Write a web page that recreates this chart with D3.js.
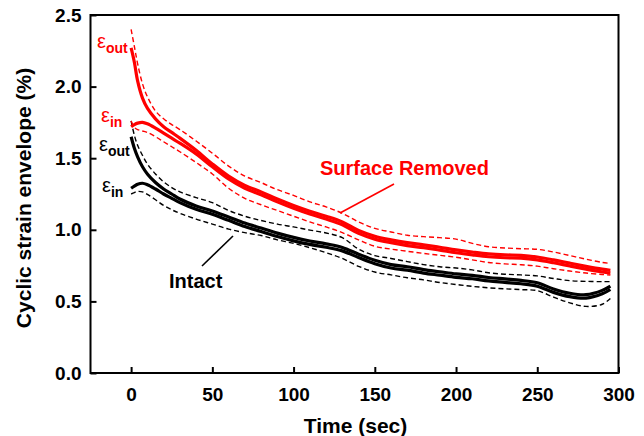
<!DOCTYPE html>
<html>
<head>
<meta charset="utf-8">
<script src="https://cdn.jsdelivr.net/npm/d3@7"></script>
<style>
  html, body { margin: 0; padding: 0; background: #fff; }
  svg text { font-family: "Liberation Sans", Arial, Helvetica, sans-serif; }
</style>
</head>
<body>
<svg id="chart" width="644" height="436"></svg>
<script>
// Sample times (sec)
const time = [0, 2, 4, 7, 10, 15, 20, 25, 30, 40, 50, 60, 70, 80, 90, 100, 110, 120, 130, 140,
              150, 160, 170, 180, 190, 200, 210, 220, 230, 240, 250, 260, 270, 280, 290, 295];

// Surface removed specimen (%)
const removedOut = [2.27, 2.17, 2.04, 1.92, 1.85, 1.775, 1.72, 1.68, 1.64, 1.555, 1.46, 1.375, 1.31, 1.265, 1.215, 1.17, 1.13, 1.095, 1.055, 0.995,
                    0.955, 0.93, 0.91, 0.895, 0.878, 0.86, 0.845, 0.832, 0.825, 0.822, 0.81, 0.79, 0.767, 0.745, 0.725, 0.717];
const removedIn  = [1.72, 1.735, 1.745, 1.75, 1.74, 1.71, 1.675, 1.64, 1.605, 1.53, 1.44, 1.355, 1.29, 1.245, 1.195, 1.15, 1.11, 1.075, 1.035, 0.975,
                    0.935, 0.91, 0.89, 0.875, 0.858, 0.84, 0.825, 0.812, 0.805, 0.802, 0.79, 0.77, 0.747, 0.725, 0.705, 0.697];
const removedUpper = [2.40, 2.28, 2.16, 2.02, 1.93, 1.83, 1.775, 1.735, 1.70, 1.62, 1.535, 1.445, 1.375, 1.33, 1.28, 1.24, 1.195, 1.16, 1.115, 1.055,
                      1.01, 0.985, 0.962, 0.952, 0.945, 0.935, 0.905, 0.882, 0.873, 0.868, 0.864, 0.845, 0.82, 0.795, 0.772, 0.765];
const removedLower = [1.76, 1.715, 1.70, 1.69, 1.68, 1.65, 1.615, 1.58, 1.545, 1.47, 1.39, 1.29, 1.22, 1.175, 1.135, 1.095, 1.055, 1.02, 0.98, 0.93,
                      0.885, 0.865, 0.85, 0.835, 0.822, 0.808, 0.79, 0.772, 0.762, 0.756, 0.746, 0.728, 0.712, 0.698, 0.688, 0.684];

// Intact specimen (%)
const intactOut = [1.65, 1.57, 1.51, 1.44, 1.39, 1.33, 1.285, 1.25, 1.215, 1.167, 1.132, 1.09, 1.047, 1.012, 0.977, 0.947, 0.922, 0.902, 0.877, 0.83,
                   0.787, 0.757, 0.742, 0.722, 0.707, 0.692, 0.682, 0.667, 0.657, 0.647, 0.63, 0.587, 0.557, 0.547, 0.577, 0.607];
const intactIn  = [1.29, 1.305, 1.318, 1.325, 1.315, 1.285, 1.25, 1.22, 1.19, 1.143, 1.108, 1.066, 1.023, 0.988, 0.953, 0.923, 0.898, 0.878, 0.853, 0.806,
                   0.763, 0.733, 0.718, 0.698, 0.683, 0.668, 0.658, 0.643, 0.633, 0.623, 0.606, 0.563, 0.533, 0.523, 0.553, 0.583];
const intactUpper = [1.76, 1.66, 1.59, 1.52, 1.46, 1.39, 1.335, 1.295, 1.265, 1.225, 1.19, 1.135, 1.095, 1.065, 1.04, 1.02, 0.998, 0.978, 0.945, 0.865,
                     0.82, 0.80, 0.778, 0.757, 0.742, 0.733, 0.72, 0.70, 0.69, 0.685, 0.678, 0.66, 0.645, 0.64, 0.638, 0.638];
const intactLower = [1.25, 1.26, 1.268, 1.265, 1.248, 1.21, 1.17, 1.14, 1.115, 1.075, 1.04, 1.005, 0.98, 0.96, 0.93, 0.905, 0.875, 0.84, 0.80, 0.745,
                     0.705, 0.685, 0.665, 0.65, 0.632, 0.618, 0.605, 0.595, 0.588, 0.582, 0.575, 0.53, 0.49, 0.465, 0.48, 0.52];

// Axis ticks
const xTicks = [0, 50, 100, 150, 200, 250, 300];
const yTicks = [0.0, 0.5, 1.0, 1.5, 2.0, 2.5];

const RED = "#ff0000";
const BLACK = "#000000";

const svg = d3.select("#chart");
const plot = { left: 90.5, right: 618.5, top: 15, bottom: 373 };

const x = d3.scaleLinear().domain([-25, 300]).range([plot.left, plot.right]);
const y = d3.scaleLinear().domain([0, 2.5]).range([plot.bottom, plot.top]);

const line = d3.line()
  .x(d => x(d[0]))
  .y(d => y(d[1]))
  .curve(d3.curveCatmullRom.alpha(0.5));

const pairs = vals => time.map((t, i) => [t, vals[i]]);

// Dashed envelope bounds
const dashed = [
  [intactUpper, BLACK], [intactLower, BLACK],
  [removedUpper, RED], [removedLower, RED]
];
dashed.forEach(([vals, color]) => {
  svg.append("path")
    .attr("d", line(pairs(vals)))
    .attr("fill", "none")
    .attr("stroke", color)
    .attr("stroke-width", 1.4)
    .attr("stroke-dasharray", "5,3");
});

// Solid strain curves
const solid = [
  [intactOut, BLACK], [intactIn, BLACK],
  [removedOut, RED], [removedIn, RED]
];
solid.forEach(([vals, color]) => {
  svg.append("path")
    .attr("d", line(pairs(vals)))
    .attr("fill", "none")
    .attr("stroke", color)
    .attr("stroke-width", 3.2)
    .attr("stroke-linejoin", "round");
});

// Frame
svg.append("rect")
  .attr("x", plot.left).attr("y", plot.top)
  .attr("width", plot.right - plot.left).attr("height", plot.bottom - plot.top)
  .attr("fill", "none").attr("stroke", BLACK).attr("stroke-width", 2);

// Axes with inward ticks
const xAxis = svg.append("g")
  .attr("transform", `translate(0,${plot.bottom})`)
  .call(d3.axisBottom(x).tickValues(xTicks).tickSizeInner(-6).tickSizeOuter(0).tickPadding(15).tickFormat(d3.format("d")));
const yAxis = svg.append("g")
  .attr("transform", `translate(${plot.left},0)`)
  .call(d3.axisLeft(y).tickValues(yTicks).tickSizeInner(-6).tickSizeOuter(0).tickPadding(9).tickFormat(d3.format(".1f")));

[xAxis, yAxis].forEach(g => {
  g.select(".domain").remove();
  g.selectAll(".tick line").attr("stroke", BLACK).attr("stroke-width", 2);
  g.selectAll(".tick text")
    .attr("fill", BLACK)
    .style("font-family", '"Liberation Sans", Arial, sans-serif')
    .style("font-weight", "bold")
    .style("font-size", "19px");
});
xAxis.selectAll(".tick text").attr("dy", "0.71em").attr("y", 15);

// Axis titles
svg.append("text")
  .attr("x", (plot.left + plot.right) / 2 + 1)
  .attr("y", 433)
  .attr("text-anchor", "middle")
  .style("font-weight", "bold").style("font-size", "21px")
  .text("Time (sec)");

svg.append("text")
  .attr("transform", `translate(31,${(plot.top + plot.bottom) / 2 + 4}) rotate(-90)`)
  .attr("text-anchor", "middle")
  .style("font-weight", "bold").style("font-size", "21px")
  .text("Cyclic strain envelope (%)");

// Curve labels: epsilon with subscript
function epsLabel(px, py, sub, color) {
  const t = svg.append("text").attr("x", px).attr("y", py).attr("fill", color);
  t.append("tspan").style("font-size", "20px").text("ε");
  t.append("tspan").attr("dy", 5).style("font-size", "14px").style("font-weight", "bold").text(sub);
}
epsLabel(97, 48, "out", RED);
epsLabel(101, 122, "in", RED);
epsLabel(99, 151, "out", BLACK);
epsLabel(102, 192, "in", BLACK);

// Series annotations with leader lines
svg.append("line")
  .attr("x1", 340).attr("y1", 213).attr("x2", 394).attr("y2", 184)
  .attr("stroke", RED).attr("stroke-width", 1.6);
svg.append("text")
  .attr("x", 320).attr("y", 175)
  .attr("fill", RED)
  .style("font-weight", "bold").style("font-size", "20px")
  .text("Surface Removed");

svg.append("line")
  .attr("x1", 202).attr("y1", 266).attr("x2", 233).attr("y2", 236)
  .attr("stroke", BLACK).attr("stroke-width", 1.6);
svg.append("text")
  .attr("x", 169).attr("y", 288)
  .attr("fill", BLACK)
  .style("font-weight", "bold").style("font-size", "20px")
  .text("Intact");
</script>
</body>
</html>
